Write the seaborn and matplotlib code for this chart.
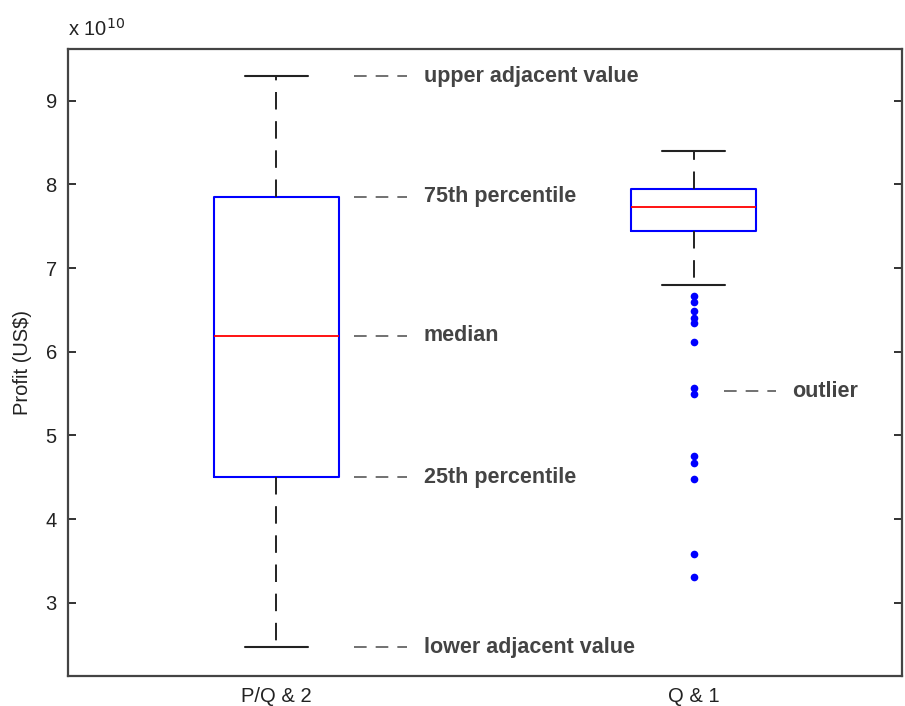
import numpy as np
import pandas as pd
import matplotlib
matplotlib.use("Agg")
import matplotlib.pyplot as plt
import matplotlib.ticker as mticker
import seaborn as sns

# summary statistics (US$)
groups = ["P/Q & 2", "Q & 1"]
whisker_low = [2.47e10, 6.80e10]
q1 = [4.50e10, 7.44e10]
median = [6.19e10, 7.73e10]
q3 = [7.85e10, 7.94e10]
whisker_high = [9.29e10, 8.40e10]
outliers_q1 = [6.67e10, 6.59e10, 6.49e10, 6.40e10, 6.34e10, 6.12e10, 5.57e10,
               5.49e10, 4.75e10, 4.67e10, 4.48e10, 3.58e10, 3.31e10]

notes = ["upper adjacent value", "75th percentile", "median",
         "25th percentile", "lower adjacent value"]

sns.set_style("white")
plt.rcParams["font.family"] = ["Liberation Sans", "DejaVu Sans"]

fig = plt.figure(figsize=(9.05, 7.06), dpi=100)
ax = fig.add_axes([0.0751, 0.0425, 0.9216, 0.8877])

fliers = pd.DataFrame({"group": ["Q & 1"] * len(outliers_q1), "profit": outliers_q1})
sns.stripplot(data=fliers, x="group", y="profit", order=groups, jitter=False,
              color="#0000ff", marker="o", size=5.5, linewidth=0, ax=ax)

stats = []
for i, g in enumerate(groups):
    stats.append({"label": g, "whislo": whisker_low[i], "q1": q1[i], "med": median[i],
                  "q3": q3[i], "whishi": whisker_high[i], "fliers": []})

ax.bxp(stats, positions=[0, 1], widths=0.3, showfliers=False, manage_ticks=False,
       boxprops=dict(color="#0000ff", linewidth=1.5),
       medianprops=dict(color="#ff0000", linewidth=1.3),
       whiskerprops=dict(color="#222222", linewidth=1.4, linestyle=(0, (9, 6))),
       capprops=dict(color="#222222", linewidth=1.5))

# annotation labels for the first box
note_vals = [whisker_high[0], q3[0], median[0], q1[0], whisker_low[0]]
for val, txt in zip(note_vals, notes):
    ax.plot([0.187, 0.312], [val, val], color="#666666", linewidth=1.3,
            linestyle=(0, (7, 5)))
    ax.text(0.353, val, txt, ha="left", va="center", fontsize=15.5,
            fontweight="bold", color="#444444")

outlier_note = 5.53e10
ax.plot([1.074, 1.199], [outlier_note, outlier_note], color="#666666",
        linewidth=1.3, linestyle=(0, (7, 5)))
ax.text(1.237, outlier_note, "outlier", ha="left", va="center", fontsize=15.5,
        fontweight="bold", color="#444444")

ax.set_xlim(-0.5, 1.5)
ax.set_ylim(2.124e10, 9.614e10)
ax.set_xticks([0, 1])
ax.set_xticklabels(groups)
ax.yaxis.set_major_locator(mticker.MultipleLocator(1e10))
ax.yaxis.set_major_formatter(mticker.ScalarFormatter())
ax.yaxis.get_offset_text().set_visible(False)
ax.set_xlabel("")
ax.set_ylabel("Profit (US$)", fontsize=14.5, labelpad=10, color="#222222")
ax.tick_params(axis="y", direction="in", length=6, width=1.3, left=True,
               right=True, labelsize=14.5, colors="#222222", pad=8)
ax.tick_params(axis="x", length=0, labelsize=14.5, colors="#222222", pad=8)
for sp in ax.spines.values():
    sp.set_color("#444444")
    sp.set_linewidth(1.6)

ax.text(0.0, 1.015, "x 10$^{10}$", transform=ax.transAxes, ha="left",
        va="bottom", fontsize=14.5, color="#222222")

fig.savefig("out.png", dpi=100)
